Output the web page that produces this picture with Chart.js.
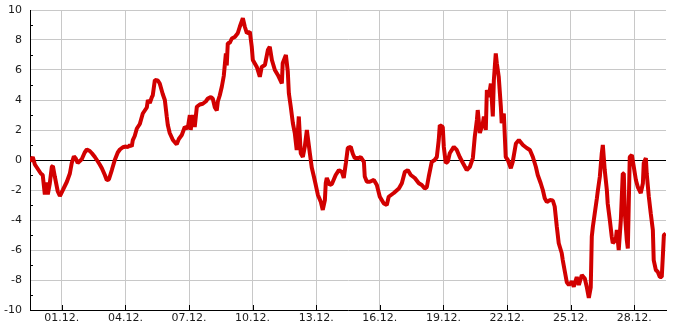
<!DOCTYPE html>
<html lang="pt-br">

<head>
    <meta charset="UTF-8" />
    <title>Temperatura | Dezembro</title>
    <script src="https://cdn.jsdelivr.net/npm/chart.js"></script>
    <style>
        body { margin: 0; background: #fff; }
    </style>
</head>

<body>
    <canvas id="myChart" width="685" height="330"></canvas>
</body>

</html>

<script>
    // dias contados a partir de 01.12. 00:00 (fração = horas do dia)
    let dias = [
        -1.51, -1.37, -1.27, -1.13, -0.99, -0.90, -0.80, -0.71, -0.66, -0.57,
        -0.47, -0.42, -0.33, -0.19, -0.09, 0.05, 0.24, 0.38, 0.47, 0.57,
        0.66, 0.75, 0.94, 1.08, 1.18, 1.32, 1.42, 1.56, 1.70, 1.79,
        1.89, 2.03, 2.12, 2.22, 2.36, 2.50, 2.64, 2.74, 2.88, 3.02,
        3.11, 3.21, 3.30, 3.35, 3.44, 3.54, 3.68, 3.82, 4.01, 4.06,
        4.15, 4.25, 4.29, 4.39, 4.53, 4.62, 4.76, 4.86, 4.95, 5.00,
        5.09, 5.24, 5.38, 5.42, 5.52, 5.66, 5.80, 5.94, 6.04, 6.08,
        6.18, 6.27, 6.37, 6.51, 6.65, 6.79, 6.89, 7.03, 7.12, 7.22,
        7.31, 7.36, 7.45, 7.55, 7.64, 7.74, 7.78, 7.83, 7.92, 8.02,
        8.16, 8.30, 8.40, 8.54, 8.63, 8.73, 8.87, 8.96, 9.01, 9.20,
        9.34, 9.43, 9.58, 9.72, 9.81, 9.91, 10.05, 10.19, 10.38, 10.42,
        10.57, 10.66, 10.71, 10.80, 10.90, 10.99, 11.08, 11.18, 11.27, 11.37,
        11.46, 11.56, 11.60, 11.70, 11.79, 11.89, 11.98, 12.08, 12.22, 12.31,
        12.41, 12.45, 12.50, 12.64, 12.74, 12.92, 13.07, 13.21, 13.30, 13.40,
        13.49, 13.63, 13.73, 13.82, 14.01, 14.10, 14.25, 14.29, 14.39, 14.53,
        14.72, 14.86, 15.00, 15.19, 15.33, 15.42, 15.66, 15.90, 16.04, 16.18,
        16.32, 16.46, 16.65, 16.84, 16.98, 17.12, 17.22, 17.31, 17.45, 17.59,
        17.69, 17.78, 17.83, 17.97, 18.02, 18.11, 18.21, 18.30, 18.49, 18.63,
        18.77, 18.92, 19.10, 19.25, 19.39, 19.48, 19.58, 19.62, 19.72, 19.86,
        19.91, 20.00, 20.05, 20.14, 20.24, 20.33, 20.38, 20.47, 20.52, 20.61,
        20.71, 20.75, 20.85, 20.94, 21.04, 21.18, 21.27, 21.42, 21.56, 21.75,
        21.93, 22.08, 22.22, 22.36, 22.45, 22.59, 22.69, 22.78, 22.88, 23.02,
        23.16, 23.25, 23.35, 23.44, 23.58, 23.63, 23.73, 23.82, 23.92, 24.06,
        24.15, 24.29, 24.39, 24.53, 24.67, 24.76, 24.86, 24.95, 25.00, 25.05,
        25.14, 25.24, 25.28, 25.38, 25.47, 25.52, 25.61, 25.71, 25.75, 25.85,
        25.94, 25.99, 26.13, 26.18, 26.27, 26.37, 26.46, 26.51, 26.56, 26.65,
        26.70, 26.79, 26.89, 26.98, 27.08, 27.17, 27.31, 27.41, 27.45, 27.55,
        27.59, 27.69, 27.78, 27.88, 27.92, 28.02, 28.11, 28.21, 28.30, 28.35,
        28.40, 28.49
    ];

    let temperaturas = [
        -0.1, 0.2, -0.3, -0.6, -0.9, -1.0, -2.3, -1.5, -2.3, -1.6,
        -0.45, -0.4, -1.1, -2.1, -2.4, -2.0, -1.45, -0.9, -0.2, 0.25,
        0.1, -0.2, 0.05, 0.5, 0.7, 0.6, 0.45, 0.2, -0.1, -0.3,
        -0.55, -1.0, -1.33, -1.3, -0.67, 0.0, 0.5, 0.7, 0.85, 0.9,
        0.85, 1.0, 0.9, 1.33, 1.6, 2.1, 2.4, 3.1, 3.5, 4.0,
        3.8, 4.2, 4.3, 5.33, 5.3, 5.1, 4.4, 4.0, 2.9, 2.33,
        1.8, 1.33, 1.1, 1.05, 1.4, 1.67, 2.2, 2.1, 3.0, 2.0,
        3.0, 2.2, 3.55, 3.7, 3.75, 3.9, 4.1, 4.2, 4.1, 3.5,
        3.3, 3.9, 4.3, 4.9, 5.6, 7.1, 6.3, 7.8, 7.8, 8.1,
        8.2, 8.45, 8.9, 9.45, 8.9, 8.45, 8.55, 7.55, 6.67, 6.2,
        5.55, 6.2, 6.33, 7.33, 7.55, 6.67, 6.0, 5.67, 5.1, 6.45,
        7.0, 5.9, 4.45, 3.55, 2.45, 1.8, 0.67, 2.9, 0.45, 0.2,
        0.87, 2.0, 1.55, 0.45, -0.5, -1.1, -1.67, -2.33, -2.8, -3.33,
        -2.67, -1.55, -1.2, -1.67, -1.6, -1.0, -0.67, -0.8, -1.2, -0.2,
        0.8, 0.87, 0.4, 0.13, 0.13, 0.2, -0.13, -1.1, -1.45, -1.45,
        -1.33, -1.67, -2.45, -2.9, -3.0, -2.45, -2.2, -1.9, -1.55, -0.8,
        -0.67, -1.0, -1.2, -1.55, -1.67, -1.9, -1.8, -1.1, -0.13, 0.0,
        0.2, 1.33, 2.33, 2.2, 0.87, -0.2, -0.1, 0.45, 0.87, 0.67,
        0.2, -0.2, -0.67, -0.45, 0.13, 1.55, 2.67, 3.33, 1.8, 2.45,
        2.9, 2.0, 4.67, 4.2, 5.1, 2.9, 5.33, 7.1, 6.45, 5.55,
        3.55, 2.45, 3.1, 0.2, 0.0, -0.55, -0.13, 1.1, 1.33, 1.0,
        0.8, 0.67, 0.2, -0.45, -1.0, -1.55, -2.0, -2.55, -2.8, -2.67,
        -2.7, -3.1, -4.45, -5.55, -6.2, -6.67, -7.45, -8.15, -8.33, -8.1,
        -8.45, -7.8, -8.33, -7.67, -7.9, -8.45, -9.2, -8.5, -5.1, -4.45,
        -3.55, -2.55, -2.1, -1.1, 0.45, 1.0, -0.67, -2.0, -2.9, -4.0,
        -5.1, -5.55, -5.33, -4.67, -6.0, -4.0, -0.9, -0.9, -3.55, -5.33,
        -5.9, 0.2, 0.33, -0.45, -1.33, -1.8, -2.2, -1.55, -0.2, 0.13,
        -0.9, -2.45, -3.55, -4.67, -6.67, -7.33, -7.45, -7.8, -7.8, -6.45,
        -5.0, -4.9
    ];

    // posições dos rótulos do eixo x (em dias) e os textos
    let diasRotulo = [0, 3, 6, 9, 12, 15, 18, 21, 24, 27];
    let rotulos = ['01.12.', '04.12.', '07.12.', '10.12.', '13.12.', '16.12.', '19.12.', '22.12.', '25.12.', '28.12.'];

    let eixoYMin = -10;
    let eixoYMax = 10;

    function plotarGrafico() {
        let pontos = [];
        for (let i = 0; i < dias.length; i++) {
            pontos.push({ x: dias[i], y: temperaturas[i] });
        }

        // tracinhos pretos para dentro da área do gráfico
        const tracinhos = {
            id: 'tracinhos',
            afterDatasetsDraw(chart) {
                const ctx = chart.ctx;
                const x = chart.scales.x;
                const y = chart.scales.y;
                ctx.save();
                ctx.strokeStyle = '#000';
                ctx.lineWidth = 1;
                ctx.beginPath();
                for (let v = eixoYMin + 1; v < eixoYMax; v += 2) {
                    let py = Math.round(y.getPixelForValue(v)) + 0.5;
                    ctx.moveTo(x.left, py);
                    ctx.lineTo(x.left + 3, py);
                }
                for (let d of diasRotulo) {
                    let px = Math.round(x.getPixelForValue(d)) + 0.5;
                    ctx.moveTo(px, y.bottom);
                    ctx.lineTo(px, y.bottom - 5);
                }
                ctx.stroke();
                ctx.restore();
            }
        };

        const config = {
            type: 'line',
            data: {
                datasets: [{
                    data: pontos,
                    borderColor: '#d20000',
                    borderWidth: 4,
                    borderJoinStyle: 'bevel',
                    borderCapStyle: 'butt',
                    pointRadius: 0,
                    fill: false,
                    tension: 0
                }]
            },
            options: {
                responsive: false,
                devicePixelRatio: 1,
                animation: false,
                layout: { padding: { left: 0, right: 19, top: 10, bottom: 0 } },
                plugins: {
                    legend: { display: false },
                    tooltip: { enabled: false }
                },
                scales: {
                    x: {
                        type: 'linear',
                        min: -1.5,
                        max: 28.5,
                        afterBuildTicks: (scale) => {
                            scale.ticks = diasRotulo.map(d => ({ value: d }));
                        },
                        afterFit: (scale) => {
                            scale.height = 20;
                            scale.paddingLeft = 0;
                            scale.paddingRight = 0;
                        },
                        ticks: {
                            autoSkip: false,
                            maxRotation: 0,
                            padding: 2,
                            color: '#1a1a1a',
                            font: { family: 'DejaVu Sans', size: 11 },
                            callback: (valor) => rotulos[diasRotulo.indexOf(valor)]
                        },
                        grid: { color: '#c8c8c8', drawTicks: false },
                        border: { color: '#000', width: 1 }
                    },
                    y: {
                        min: eixoYMin,
                        max: eixoYMax,
                        afterFit: (scale) => {
                            scale.width = 30;
                            scale.paddingTop = 0;
                            scale.paddingBottom = 0;
                        },
                        ticks: {
                            stepSize: 1,
                            autoSkip: false,
                            padding: 8,
                            color: '#1a1a1a',
                            font: { family: 'DejaVu Sans', size: 11 },
                            callback: (valor) => (valor % 2 == 0 ? String(valor) : '')
                        },
                        grid: {
                            drawTicks: false,
                            color: (c) => {
                                let v = c.tick ? c.tick.value : null;
                                if (v === 0) return '#000';
                                if (v !== null && Math.abs(v) % 2 == 1) return 'rgba(0,0,0,0)';
                                return '#c8c8c8';
                            }
                        },
                        border: { color: '#000', width: 1 }
                    }
                }
            },
            plugins: [tracinhos]
        };

        let myChart = new Chart(document.getElementById('myChart'), config);
        console.log('area', myChart.chartArea);
    }

    plotarGrafico();
</script>
